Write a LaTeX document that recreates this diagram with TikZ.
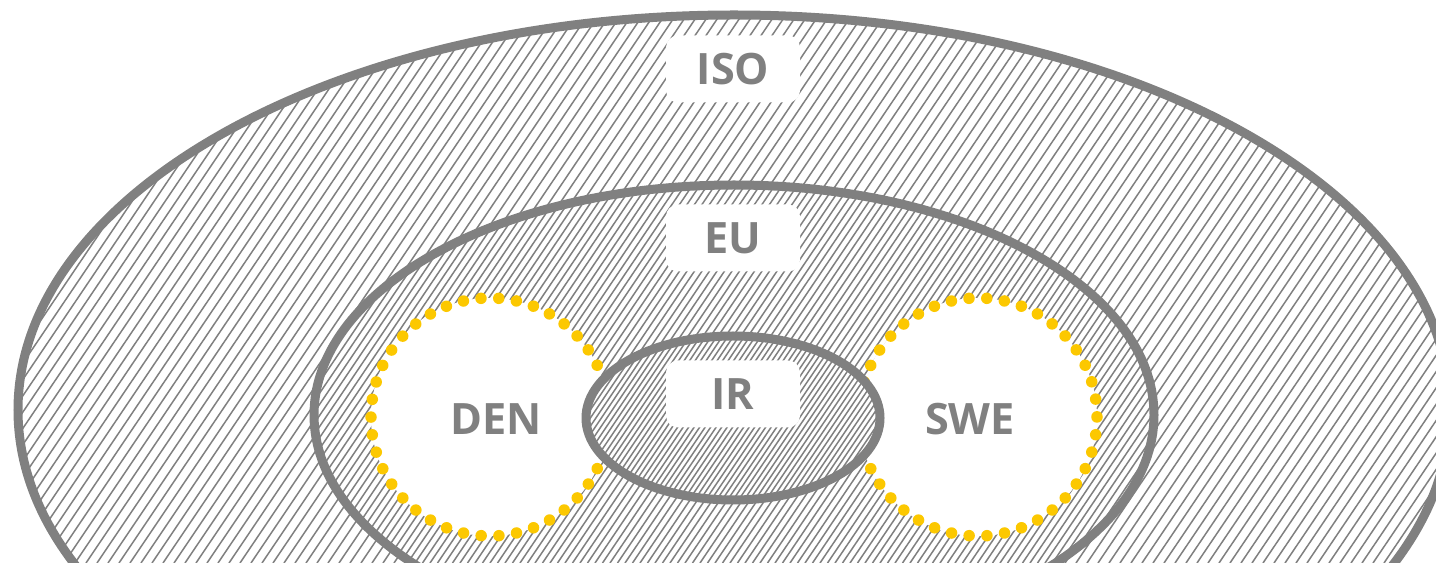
\documentclass[tikz,border=0pt]{standalone}
\usepackage{fontspec}
\setmainfont{Open Sans}

\definecolor{ringgray}{RGB}{128,128,128}
\definecolor{dotyellow}{RGB}{252,200,0}

\tikzset{
  ring/.style={draw=ringgray, line width=0.9mm},
  hatch/.style={draw=ringgray, line width=0.15mm},
  dotring/.style={draw=dotyellow, fill=white, line width=1.15mm, line cap=round,
                  dash pattern=on 0pt off 1.78mm},
  tag/.style={fill=white, rounded corners=1.2mm, minimum width=13.4mm,
              minimum height=6.7mm, inner sep=0pt, text=ringgray,
              font=\bfseries\fontsize{12.3}{14}\selectfont},
  country/.style={inner sep=0pt, text=ringgray,
                  font=\bfseries\fontsize{12.3}{14}\selectfont}
}

\begin{document}
\begin{tikzpicture}[x=0.1mm, y=-0.1mm]
    \useasboundingbox (0,0) rectangle (1436,563);
    \clip (0,0) rectangle (1436,563);

    % 1. Centres of the regions
    \coordinate (iso) at (734,410); % outer ellipse
    \coordinate (eu)  at (734,415); % middle ellipse
    \coordinate (ir)  at (733,418); % inner ellipse
    \coordinate (den) at (490,417); % left circle
    \coordinate (swe) at (978,417); % right circle

    % 2. ISO: white ground, sparse hatching
    \begin{scope}
        \clip (iso) ellipse [x radius=716, y radius=395];
        \fill[white] (0,0) rectangle (1436,563);
        \foreach \x in {-420,-409,...,1440}
            \draw[hatch] (\x,563) -- ++(380,-563);
    \end{scope}
    \draw[ring] (iso) ellipse [x radius=716, y radius=395];

    % 3. EU: denser hatching
    \begin{scope}
        \clip (eu) ellipse [x radius=420, y radius=230];
        \fill[white] (0,0) rectangle (1436,563);
        \foreach \x in {-80,-72.5,...,1170}
            \draw[hatch] (\x,563) -- ++(380,-563);
    \end{scope}
    \draw[ring] (eu) ellipse [x radius=420, y radius=230];

    % 4. The two countries (white, yellow dots)
    \foreach \c in {den, swe}
        \draw[dotring] (\c) circle [radius=119];

    % 5. IR: densest hatching, on top of the circles
    \begin{scope}
        \clip (ir) ellipse [x radius=147, y radius=82];
        \fill[white] (0,0) rectangle (1436,563);
        \foreach \x in {190,195.5,...,900}
            \draw[hatch] (\x,563) -- ++(380,-563);
    \end{scope}
    \draw[ring] (ir) ellipse [x radius=147, y radius=82];

    % 6. Labels
    \node[tag] (isotag) at (733,69)  {ISO};
    \node[tag] (eutag)  at (733,238) {EU};
    \node[tag] (irtag)  at (733,394) {IR};
    \node[country] (dentext) at (496,419) {DEN};
    \node[country] (swetext) at (970,419) {SWE};
\end{tikzpicture}
\end{document}
